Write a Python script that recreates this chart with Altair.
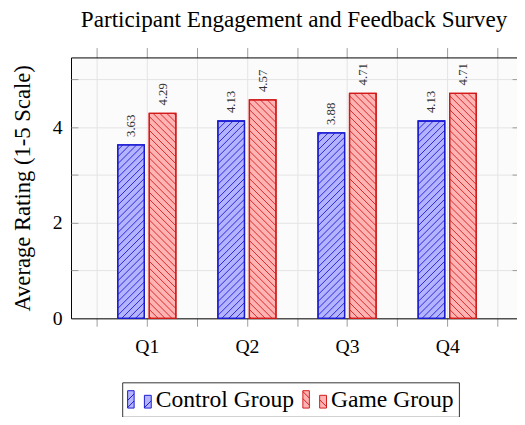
import json
import altair as alt
import pandas as pd

# ---------------- data ----------------
questions = ["Q1", "Q2", "Q3", "Q4"]
groups = ["Control Group", "Game Group"]
control = [3.63, 4.13, 3.88, 4.13]
game = [4.29, 4.57, 4.71, 4.71]

fill_colors = ["#b3b3ff", "#ffb3b3"]
stroke_colors = ["#1a1ad2", "#d21a1a"]

rows = []
for i, q in enumerate(questions):
    rows.append({"question": q, "group": groups[0], "value": control[i], "idx": i})
    rows.append({"question": q, "group": groups[1], "value": game[i], "idx": i})
df = pd.DataFrame(rows)

# ---------------- geometry / style ----------------
SERIF = "Liberation Serif"
W, H = 453, 265
X_MIN, X_MAX = -0.757, 3.697
Y_MAX = 5.46
SX = W / (X_MAX - X_MIN)   # px per x unit
SY = H / Y_MAX             # px per y unit
BAR_PX = 27
GAP_PX = 5
BAR_U = BAR_PX / SX
OFF_L = -(BAR_PX + GAP_PX / 2) / SX
OFF_R = (GAP_PX / 2) / SX
PERIOD = 7.0

G0 = groups[0]
x0_expr = f"datum.idx + (datum.group === '{G0}' ? {OFF_L} : {OFF_R})"

xscale = alt.Scale(domain=[X_MIN, X_MAX], nice=False, zero=False)
yscale = alt.Scale(domain=[0, Y_MAX], nice=False, zero=True)
fill_scale = alt.Scale(domain=groups, range=fill_colors)
stroke_scale = alt.Scale(domain=groups, range=stroke_colors)

half_ticks = [i * 0.5 - 0.5 for i in range(9)]
label_expr = f"datum.value % 1 === 0 ? {json.dumps(questions)}[datum.value] : ''"

GRID = "#e4e4e4"
TICK = "#9c9c9c"

bottom_axis = alt.Axis(orient="bottom", values=half_ticks, labelExpr=label_expr,
                       grid=True, gridColor=GRID, domainColor="black", domainWidth=1,
                       tickColor=TICK, tickSize=8, labelPadding=11, labelFont=SERIF,
                       labelFontSize=20, labelColor="black", labelAngle=0, title=None)
top_axis = alt.Axis(orient="top", values=half_ticks, labels=False, grid=False,
                    domainColor="black", domainWidth=1, tickColor=TICK, tickSize=10,
                    title=None)
left_axis = alt.Axis(orient="left", values=[0, 1, 2, 3, 4, 5],
                     labelExpr="datum.value % 2 === 0 ? datum.label : ''",
                     ticks=False, tickSize=0, grid=True, gridColor=GRID,
                     domainColor="black", domainWidth=1, labelPadding=9,
                     labelFont=SERIF, labelFontSize=20, labelColor="black",
                     title="Average Rating (1-5 Scale)", titleFont=SERIF,
                     titleFontSize=23, titleFontWeight="normal", titleColor="black",
                     titlePadding=18)
inner_left_axis = alt.Axis(orient="left", offset=-7, values=[1, 2, 3, 4, 5],
                           labels=False, domain=False, grid=False, tickColor=TICK,
                           tickSize=7, title=None)
right_axis = alt.Axis(orient="right", offset=-5, values=[1, 2, 3, 4, 5],
                      labels=False, domain=False, grid=False, tickColor=TICK,
                      tickSize=5, title=None)

# legend symbols: two small hatched bars (pgfplots ybar legend style)
PATH_C = ("M-1,-0.77H-0.45V0.7H-1Z M0.42,-0.38H1V0.7H0.42Z "
          "M-1,0.65L-0.45,0.1 M-1,0.05L-0.45,-0.5 M0.42,0.66L1,0.08")
PATH_G = ("M-1,-0.77H-0.45V0.7H-1Z M0.42,-0.38H1V0.7H0.42Z "
          "M-1,-0.7L-0.45,-0.15 M-1,-0.1L-0.45,0.45 M0.42,0.0L1,0.58")

legend = alt.Legend(orient="none", legendX=52, legendY=330, direction="horizontal",
                    title=None,
                    symbolType=alt.ExprRef(
                        expr=f"datum.value === '{G0}' ? '{PATH_C}' : '{PATH_G}'"),
                    symbolSize=576,
                    symbolStrokeWidth=1, labelFont=SERIF, labelFontSize=24,
                    labelColor="black", labelOffset=4, columnPadding=6, padding=5,
                    labelLimit=300, strokeColor="#333333", fillColor="white")

base = alt.Chart(df).transform_calculate(
    x0=x0_expr,
    x1=f"datum.x0 + {BAR_U}",
    xc=f"datum.x0 + {BAR_U / 2}",
    base="0",
)

fill_layer = base.mark_rect(strokeWidth=1.3).encode(
    x=alt.X("x0:Q", scale=xscale, axis=bottom_axis),
    x2="x1:Q",
    y=alt.Y("value:Q", scale=yscale, axis=left_axis),
    y2="base:Q",
    fill=alt.Fill("group:N", scale=fill_scale, legend=legend),
    stroke=alt.Stroke("group:N", scale=stroke_scale, legend=legend),
)

hatch_layer = base.transform_calculate(
    k="sequence(0, 45)"
).transform_flatten(["k"]).transform_calculate(
    hp=f"datum.value * {SY}",
    c=f"datum.group === '{G0}' ? datum.k * {PERIOD} - {BAR_PX} + 2 : datum.k * {PERIOD} + 2",
    us=f"datum.group === '{G0}' ? max(0, -datum.c) : max(0, datum.c - datum.hp)",
    ue=f"datum.group === '{G0}' ? min({BAR_PX}, datum.hp - datum.c) : min({BAR_PX}, datum.c)",
).transform_filter("datum.ue > datum.us").transform_calculate(
    vs=f"datum.group === '{G0}' ? datum.us + datum.c : datum.c - datum.us",
    ve=f"datum.group === '{G0}' ? datum.ue + datum.c : datum.c - datum.ue",
    hx=f"datum.x0 + datum.us / {SX}",
    hx2=f"datum.x0 + datum.ue / {SX}",
    hy=f"datum.vs / {SY}",
    hy2=f"datum.ve / {SY}",
).mark_rule(strokeWidth=0.9).encode(
    x=alt.X("hx:Q", scale=xscale, axis=top_axis),
    x2="hx2:Q",
    y=alt.Y("hy:Q", scale=yscale, axis=inner_left_axis),
    y2="hy2:Q",
    stroke=alt.Stroke("group:N", scale=stroke_scale, legend=None),
)

stroke_layer = base.mark_rect(filled=False, strokeWidth=1.3).encode(
    x=alt.X("x0:Q", scale=xscale, axis=None),
    x2="x1:Q",
    y=alt.Y("value:Q", scale=yscale, axis=right_axis),
    y2="base:Q",
    stroke=alt.Stroke("group:N", scale=stroke_scale, legend=None),
)

label_layer = base.mark_text(angle=270, align="left", baseline="middle", dx=8,
                             font=SERIF, fontSize=13, color="#333333").encode(
    x=alt.X("xc:Q", scale=xscale, axis=None),
    y=alt.Y("value:Q", scale=yscale, axis=None),
    text=alt.Text("value:Q", format=".2f"),
)

chart = alt.layer(fill_layer, hatch_layer, stroke_layer, label_layer).resolve_axis(
    x="independent", y="independent"
).properties(
    width=W,
    height=H,
    title=alt.Title("Participant Engagement and Feedback Survey", font=SERIF,
                    fontSize=23.5, fontWeight="normal", color="black",
                    anchor="middle", frame="group", baseline="alphabetic", offset=-3),
    autosize=alt.AutoSizeParams(type="none"),
    padding={"left": 64, "top": 47, "right": 0, "bottom": 97},
).configure_view(fill="#fbfbfb", strokeWidth=0)

chart.save("out.html", embed_options={"renderer": "svg", "actions": False})
